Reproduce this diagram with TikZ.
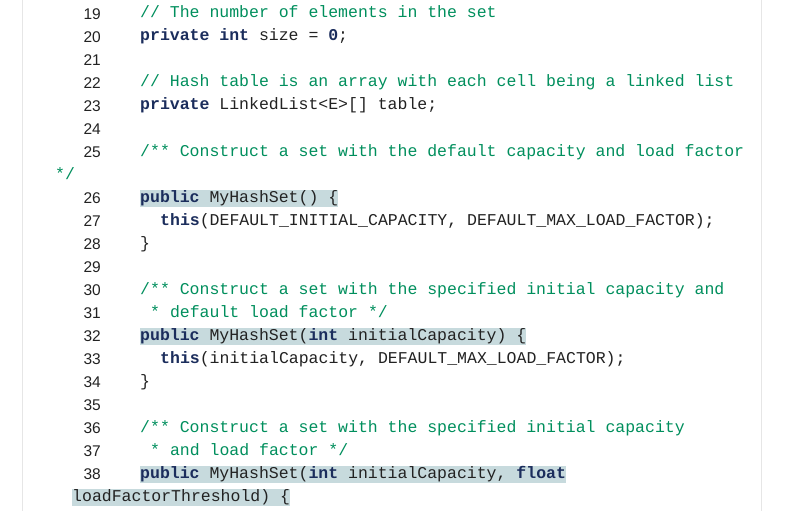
\documentclass[tikz,border=0pt]{standalone}
\usepackage{fontspec}
\setmainfont{Liberation Sans}
\setmonofont{Liberation Mono}
\definecolor{cm}{HTML}{008F5D}
\definecolor{kw}{HTML}{1B2D5C}
\definecolor{tx}{HTML}{222222}
\definecolor{hl}{HTML}{C7DADD}
\definecolor{bd}{HTML}{E6E6E6}
\newcommand{\kk}[1]{\textbf{\textcolor{kw}{#1}}}
\tikzset{
 num/.style={anchor=east, inner sep=0, font=\fontsize{15.5}{18}\selectfont, text=tx},
 code/.style={anchor=west, inner xsep=0, inner ysep=0, text height=12.5, text depth=4.5, font=\ttfamily\fontsize{16.5}{19}\selectfont, text=tx},
 com/.style={code, text=cm},
 hi/.style={code, fill=hl}
}
\begin{document}
\begin{tikzpicture}[x=1pt,y=-1pt]
\useasboundingbox (0,0) rectangle (785,511);
\fill[white] (0,0) rectangle (785,511);
\draw[bd, line width=1.2] (22.5,0) -- (22.5,511);
\draw[bd, line width=1.2] (761.5,0) -- (761.5,511);
\foreach \n/\k in {19/0,20/1,21/2,22/3,23/4,24/5,25/6,26/8,27/9,28/10,29/11,30/12,31/13,32/14,33/15,34/16,35/17,36/18,37/19,38/20}
  \node[num] (n\n) at (101,{14+23*\k}) {\n};
\node[com] (c19) at (140,14) {// The number of elements in the set};
\node[code] (c20) at (140,37) {\kk{private} \kk{int} size = \kk{0};};
\node[com] (c22) at (140,83) {// Hash table is an array with each cell being a linked list};
\node[code] (c23) at (140,106) {\kk{private} LinkedList<E>[] table;};
\node[com] (c25) at (140,152) {/** Construct a set with the default capacity and load factor};
\node[com] (c25b) at (55,175) {*/};
\node[hi] (c26) at (140,198) {\kk{public} MyHashSet() \{};
\node[code] (c27) at (160,221) {\kk{this}(DEFAULT\_INITIAL\_CAPACITY, DEFAULT\_MAX\_LOAD\_FACTOR);};
\node[code] (c28) at (140,244) {\}};
\node[com] (c30) at (140,290) {/** Construct a set with the specified initial capacity and};
\node[com] (c31) at (150,313) {* default load factor */};
\node[hi] (c32) at (140,336) {\kk{public} MyHashSet(\kk{int} initialCapacity) \{};
\node[code] (c33) at (160,359) {\kk{this}(initialCapacity, DEFAULT\_MAX\_LOAD\_FACTOR);};
\node[code] (c34) at (140,382) {\}};
\node[com] (c36) at (140,428) {/** Construct a set with the specified initial capacity};
\node[com] (c37) at (150,451) {* and load factor */};
\node[hi] (c38) at (140,474) {\kk{public} MyHashSet(\kk{int} initialCapacity, \kk{float}\ };
\node[hi] (c39) at (72,497) {loadFactorThreshold) \{};
\end{tikzpicture}
\end{document}
